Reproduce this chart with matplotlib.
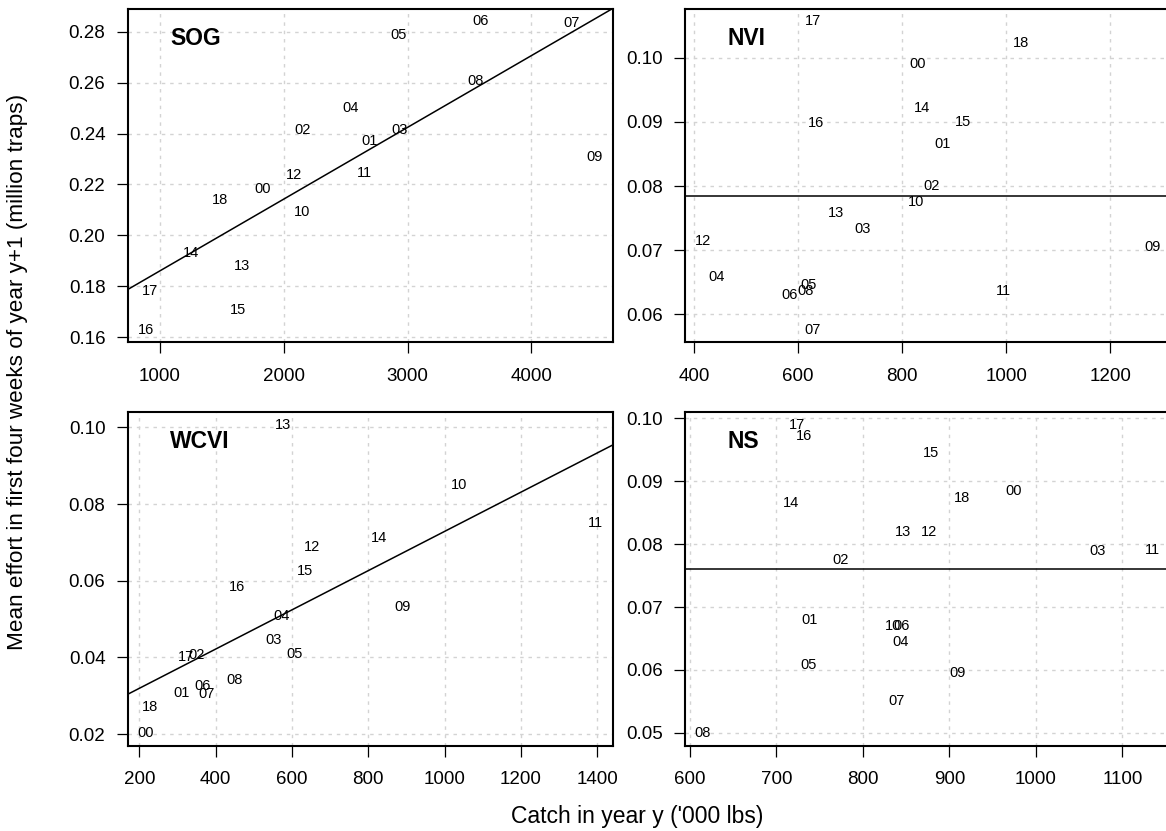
import matplotlib
matplotlib.use("Agg")
import matplotlib.pyplot as plt
import numpy as np

plt.rcParams['font.family'] = ['Liberation Sans', 'DejaVu Sans']

# etiquetas dos anos (00 = 2000, ...)
years = ["00", "01", "02", "03", "04", "05", "06", "07", "08", "09",
         "10", "11", "12", "13", "14", "15", "16", "17", "18"]

# SOG
sog_catch = [1831, 2689, 2153, 2939, 2542, 2923, 3588, 4325, 3548, 4513,
             2145, 2655, 2081, 1665, 1249, 1633, 885, 920, 1483]
sog_effort = [0.2182, 0.2370, 0.2413, 0.2412, 0.2500, 0.2787, 0.2840, 0.2833, 0.2606, 0.2309,
              0.2091, 0.2244, 0.2237, 0.1879, 0.1932, 0.1709, 0.1630, 0.1781, 0.2141]

# NVI
nvi_catch = [829, 878, 856, 724, 444, 621, 583, 628, 615, 1281,
             826, 994, 417, 674, 838, 917, 635, 628, 1028]
nvi_effort = [0.09895, 0.08650, 0.07994, 0.07322, 0.06578, 0.06458, 0.06297, 0.05759, 0.06364, 0.07041,
              0.07744, 0.06364, 0.07141, 0.07572, 0.09213, 0.09005, 0.08989, 0.10567, 0.10228]

# WCVI
wcvi_catch = [216.5, 310.6, 350.7, 552.7, 572.7, 605.8, 364.6, 376.8, 449, 890.6,
              1037, 1394, 651.2, 575.4, 827.9, 633.7, 455.2, 322.8, 228.7]
wcvi_effort = [0.02016, 0.03059, 0.04051, 0.04453, 0.05069, 0.04077, 0.03260, 0.03051, 0.03399, 0.05303,
               0.08487, 0.07513, 0.06869, 0.1007, 0.07114, 0.06243, 0.05825, 0.0400, 0.02704]

# NS
ns_catch = [974.6, 738, 774.2, 1070.9, 843.4, 737.5, 844.2, 838.8, 615, 910,
            834.6, 1134.6, 876.3, 845.9, 716.7, 878.8, 731.7, 723.4, 914.6]
ns_effort = [0.08840, 0.06800, 0.07754, 0.07886, 0.06450, 0.06073, 0.06704, 0.05501, 0.04992, 0.05946,
             0.06704, 0.07913, 0.08199, 0.08199, 0.08660, 0.09444, 0.09714, 0.0990, 0.08739]


def lims(v):
    # como no R: alarga 4% de cada lado
    lo, hi = min(v), max(v)
    r = hi - lo
    return lo - 0.04 * r, hi + 0.04 * r


def panel(ax, x, y, name, xticks, yticks, fit):
    ax.set_xlim(lims(x))
    ax.set_ylim(lims(y))
    ax.set_xticks(xticks)
    ax.set_yticks(yticks)
    ax.set_yticklabels(["%.2f" % t for t in yticks])
    ax.grid(True, color="#d3d3d3", linestyle=(0, (2.5, 3.5)), linewidth=1.0)
    ax.set_axisbelow(True)
    for s in ax.spines.values():
        s.set_linewidth(1.5)
    ax.tick_params(axis="both", direction="out", length=8, width=0.9,
                   labelsize=13.5, color="black")
    ax.tick_params(axis="y", pad=8)
    ax.tick_params(axis="x", pad=10.5)
    for lab, xi, yi in zip(years, x, y):
        ax.text(xi, yi, lab, ha="center", va="center", fontsize=10.5)
    if fit:
        # recta de regressao
        b, a = np.polyfit(x, y, 1)
        xx = np.array(ax.get_xlim())
        ax.plot(xx, a + b * xx, color="black", linewidth=1.1)
    else:
        # media
        ax.axhline(np.mean(y), color="black", linewidth=1.1)
    ax.text(0.087, 0.912, name, transform=ax.transAxes, ha="left", va="center",
            fontsize=16.5, fontweight="bold")


fig = plt.figure(figsize=(11.66, 8.31), dpi=100)
ax1 = fig.add_axes([0.1095, 0.5884, 0.4162, 0.4007])
ax2 = fig.add_axes([0.5873, 0.5884, 0.4164, 0.4007])
ax3 = fig.add_axes([0.1095, 0.1026, 0.4162, 0.4012])
ax4 = fig.add_axes([0.5873, 0.1026, 0.4164, 0.4012])

panel(ax1, sog_catch, sog_effort, "SOG", [1000, 2000, 3000, 4000],
      [0.16, 0.18, 0.20, 0.22, 0.24, 0.26, 0.28], True)
panel(ax2, nvi_catch, nvi_effort, "NVI", [400, 600, 800, 1000, 1200],
      [0.06, 0.07, 0.08, 0.09, 0.10], False)
panel(ax3, wcvi_catch, wcvi_effort, "WCVI", [200, 400, 600, 800, 1000, 1200, 1400],
      [0.02, 0.04, 0.06, 0.08, 0.10], True)
panel(ax4, ns_catch, ns_effort, "NS", [600, 700, 800, 900, 1000, 1100],
      [0.05, 0.06, 0.07, 0.08, 0.09, 0.10], False)

fig.text(637.5 / 1166, 1 - 816 / 831, "Catch in year y ('000 lbs)",
         ha="center", va="center", fontsize=16.5)
fig.text(18 / 1166, 1 - 372 / 831, "Mean effort in first four weeks of year y+1 (million traps)",
         ha="center", va="center", rotation=90, fontsize=16.2)

fig.savefig("out.png", dpi=100)
